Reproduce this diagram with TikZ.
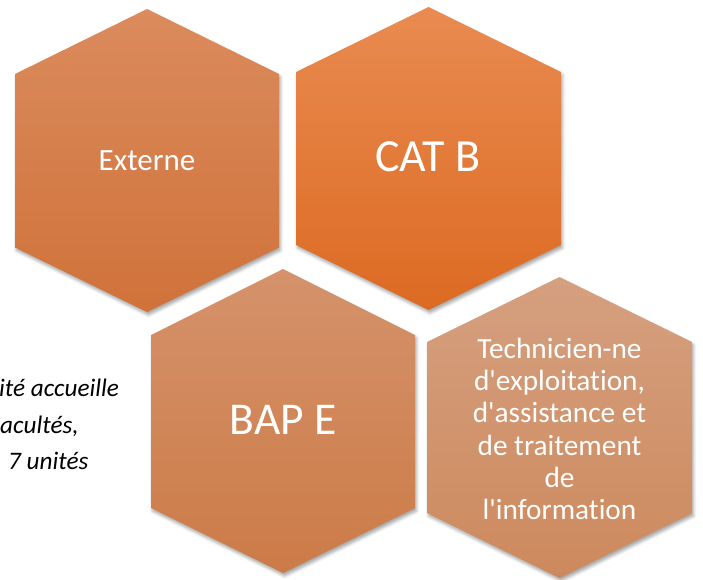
\documentclass[tikz,border=0pt]{standalone}
\usepackage{fontspec}
\setmainfont{Carlito}[Ligatures={TeX,NoCommon}]
\usetikzlibrary{shadows.blur}

\definecolor{extTop}{HTML}{DB8B5D}
\definecolor{extBot}{HTML}{D0723A}
\definecolor{catTop}{HTML}{E98B51}
\definecolor{catBot}{HTML}{DC6A22}
\definecolor{bapTop}{HTML}{D5926B}
\definecolor{bapBot}{HTML}{CC7B47}
\definecolor{techTop}{HTML}{D5A080}
\definecolor{techBot}{HTML}{CD895C}

\begin{document}
\begin{tikzpicture}
        [
            x=1pt, y=-1pt,
            hexa/.style = {blur shadow={shadow xshift=1.5pt, shadow yshift=-3pt, shadow blur radius=3pt, shadow opacity=35}},
            hextext/.style = {text=white, inner sep=0pt, anchor=base},
            sidetext/.style = {text=black, inner sep=0pt, anchor=base west, font=\itshape\fontsize{25.2}{30}\selectfont},
        ]

        \useasboundingbox (0,0) rectangle (703,579);

        % the four hexagons
        \path[hexa, top color=extTop, bottom color=extBot, shift={(147,160.5)}]
            (0,-151.5) -- (132,-86.5) -- (132,87) -- (0,151.5) -- (-132,87) -- (-132,-86.5) -- cycle;
        \path[hexa, top color=catTop, bottom color=catBot, shift={(428.5,158.5)}]
            (0,-151.5) -- (132.5,-86.5) -- (132.5,86.5) -- (0,151.5) -- (-132.5,86.5) -- (-132.5,-86.5) -- cycle;
        \path[hexa, top color=bapTop, bottom color=bapBot, shift={(283,421)}]
            (0,-152) -- (132,-86) -- (132,87) -- (0,152) -- (-132,87) -- (-132,-86) -- cycle;
        \path[hexa, top color=techTop, bottom color=techBot, shift={(559.5,427.5)}]
            (0,-150.5) -- (132.5,-85.5) -- (132.5,85.5) -- (0,150.5) -- (-132.5,85.5) -- (-132.5,-85.5) -- cycle;

        \node[hextext, font=\fontsize{31}{37}\selectfont] (ext) at (147,170.7) {Externe};
        \node[hextext, font=\fontsize{46}{55}\selectfont] (catb) at (428,171.7) {CAT B};
        \node[hextext, font=\fontsize{45.5}{55}\selectfont] (bape) at (283,434.3) {BAP E};
        \node[text=white, align=center, inner sep=0pt, font=\fontsize{29.3}{32.3}\selectfont] (tech) at (559.5,429)
            {Technicien-ne\\d\textquotesingle exploitation,\\d\textquotesingle assistance et\\de traitement\\de\\l\textquotesingle information};

        % text cut at the left edge
        \node[sidetext] (side1) at (-1,396) {ité accueille};
        \node[sidetext] (side2) at (0,433) {acultés,};
        \node[sidetext] (side3) at (8,469) {7 unités};
    \end{tikzpicture}
\end{document}
